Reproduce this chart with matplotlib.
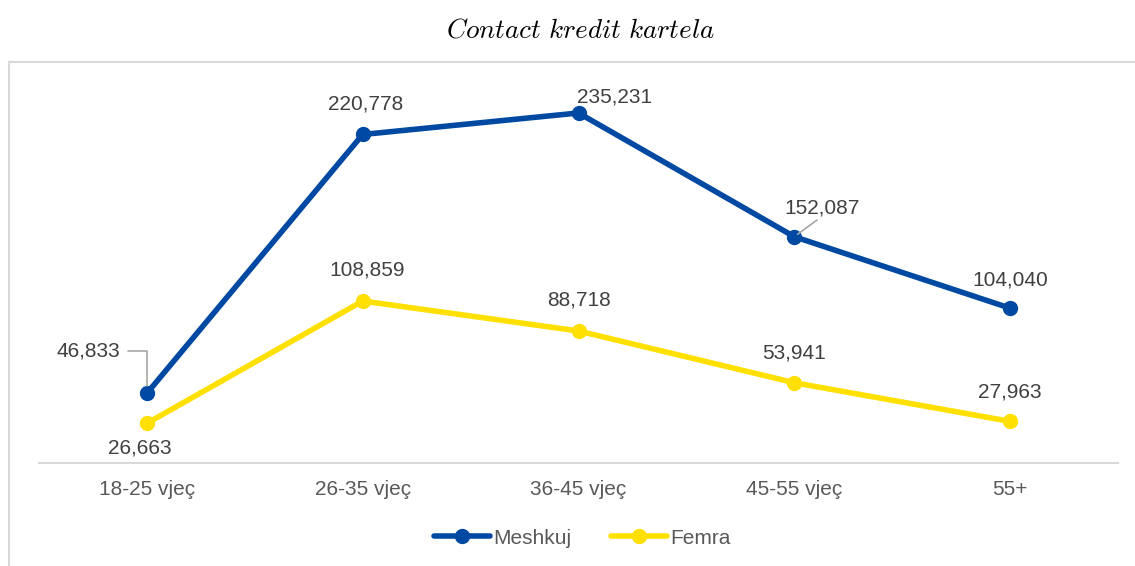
import matplotlib.pyplot as plt
from matplotlib.lines import Line2D

plt.rcParams['font.family'] = ['Liberation Sans', 'DejaVu Sans']
plt.rcParams['mathtext.fontset'] = 'cm'

categories = ['18-25 vjeç', '26-35 vjeç', '36-45 vjeç', '45-55 vjeç', '55+']
meshkuj = [46833, 220778, 235231, 152087, 104040]
femra = [26663, 108859, 88718, 53941, 27963]

BLUE = '#0049A3'
YELLOW = '#FFE000'

fig = plt.figure(figsize=(11.35, 5.66), dpi=100)
ax = fig.add_axes([39 / 1135, 1 - 463 / 566, (1118 - 39) / 1135, (463 - 91) / 566])

x = list(range(len(categories)))
ax.plot(x, meshkuj, color=BLUE, lw=4, marker='o', ms=10, label='Meshkuj',
        solid_capstyle='round', zorder=3)
ax.plot(x, femra, color=YELLOW, lw=4, marker='o', ms=10, label='Femra',
        solid_capstyle='round', zorder=3)

ax.set_xlim(-0.5, 4.5)
ax.set_ylim(0, 250000)
ax.set_xticks(x)
ax.set_xticklabels(categories, fontsize=15, color='#595959')
ax.tick_params(axis='x', length=0, pad=12)
ax.set_yticks([])
for s in ['left', 'right', 'top']:
    ax.spines[s].set_visible(False)
ax.spines['bottom'].set_color('#D9D9D9')
ax.spines['bottom'].set_linewidth(1.5)

# label offsets in pixels (label centre relative to point)
m_off = [(-59, 42), (3, 30), (36, 16), (28, 29), (0, 28)]
f_off = [(-7, -25), (4, 31), (0, 31), (0, 30), (0, 29)]
lbl = dict(textcoords='offset pixels', ha='center', va='center',
           fontsize=15, color='#404040')

for i, v in enumerate(meshkuj):
    if i == 0:
        ax.annotate(f'{v:,}', (i, v), xytext=m_off[i], **lbl,
                    arrowprops=dict(arrowstyle='-', color='#A6A6A6', lw=1.2,
                                    connectionstyle='angle,angleA=0,angleB=90,rad=0',
                                    relpos=(1, 0.5), shrinkA=4, shrinkB=5))
    elif i == 3:
        ax.annotate(f'{v:,}', (i, v), xytext=m_off[i], **lbl,
                    arrowprops=dict(arrowstyle='-', color='#A6A6A6', lw=1.2,
                                    relpos=(0.43, -0.15), patchA=None,
                                    shrinkA=0, shrinkB=3))
    else:
        ax.annotate(f'{v:,}', (i, v), xytext=m_off[i], **lbl)

for i, v in enumerate(femra):
    ax.annotate(f'{v:,}', (i, v), xytext=f_off[i], **lbl)

fig.text(580 / 1135, 1 - 31 / 566, r'$\mathit{Contact\ kredit\ kartela}$',
         ha='center', va='center', fontsize=19.5, color='#000000')

leg = fig.legend(loc='center', bbox_to_anchor=(582 / 1135, 1 - 538 / 566), ncol=2,
                 frameon=False, fontsize=15, handlelength=2.7, handletextpad=0.15,
                 columnspacing=1.9)
for t in leg.get_texts():
    t.set_color('#595959')

# outer chart frame
fig.add_artist(Line2D([9 / 1135, 9 / 1135], [0, 1 - 62 / 566], transform=fig.transFigure,
                      color='#D9D9D9', lw=1.5))
fig.add_artist(Line2D([9 / 1135, 1], [1 - 62 / 566, 1 - 62 / 566], transform=fig.transFigure,
                      color='#D9D9D9', lw=1.5))

fig.savefig('out.png', dpi=100)
